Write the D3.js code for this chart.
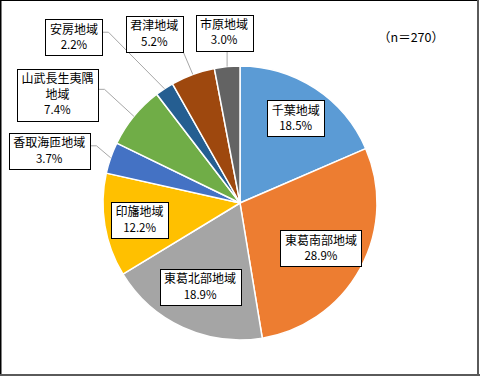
<!DOCTYPE html>
<html><head><meta charset="utf-8">
<script src="https://cdn.jsdelivr.net/npm/d3@7"></script>
<style>
html,body{margin:0;padding:0;background:#fff;}
svg{display:block;}
text{font-family:"Noto Sans CJK JP","Noto Sans",sans-serif;fill:#000;}
</style></head>
<body>
<svg id="c" width="480" height="376"></svg>
<script>
// ---- data ----
const categories = ["千葉地域","東葛南部地域","東葛北部地域","印旛地域","香取海匝地域","山武長生夷隅地域","安房地域","君津地域","市原地域"];
const labelLines = [["千葉地域"],["東葛南部地域"],["東葛北部地域"],["印旛地域"],["香取海匝地域"],["山武長生夷隅","地域"],["安房地域"],["君津地域"],["市原地域"]];
const values = [18.5, 28.9, 18.9, 12.2, 3.7, 7.4, 2.2, 5.2, 3.0];
const colors = ["#5B9BD5","#ED7D31","#A5A5A5","#FFC000","#4472C4","#70AD47","#255E91","#9E480E","#636363"];
const nLabel = "（n＝270）";

// ---- layout (label placement) ----
const labelLayout = [
  {mode:"in", r:0.74, dx:0, dy:0},
  {mode:"in", r:0.64, dx:4, dy:3},
  {mode:"in", r:0.68, dx:-1, dy:-1},
  {mode:"in", r:0.75, dx:1, dy:0},
  {mode:"out", dx:-61.5, dy:-7, side:"right"},
  {mode:"out", dx:-76.5, dy:-22, side:"right"},
  {mode:"out", dx:-90.5, dy:-51.5, side:"right"},
  {mode:"out", dx:-38.5, dy:-40.5, side:"bottom"},
  {mode:"out", dx:-3, dy:-34, side:"bottom"}
];

const W = 480, H = 376;
const cx = 240, cy = 203, R = 137;
const svg = d3.select("#c");

svg.append("rect").attr("x",0).attr("y",0).attr("width",W).attr("height",H).attr("fill","#fff");
svg.append("line").attr("x1",0).attr("y1",0.5).attr("x2",478).attr("y2",0.5).attr("stroke","#000").attr("stroke-width",1);
svg.append("line").attr("x1",0.75).attr("y1",0).attr("x2",0.75).attr("y2",375).attr("stroke","#000").attr("stroke-width",1.5);
svg.append("line").attr("x1",478).attr("y1",0).attr("x2",478).attr("y2",376).attr("stroke","#5a5a5a").attr("stroke-width",2);
svg.append("line").attr("x1",0).attr("y1",375).attr("x2",480).attr("y2",375).attr("stroke","#5a5a5a").attr("stroke-width",2);

const pie = d3.pie().sort(null).value(d=>d);
const arcs = pie(values);
const arc = d3.arc().innerRadius(0).outerRadius(R);
const g = svg.append("g").attr("transform",`translate(${cx},${cy})`);

g.selectAll("path").data(arcs).join("path")
  .attr("d",arc)
  .attr("fill",(d,i)=>colors[i])
  .attr("stroke","#fff").attr("stroke-width",1.5).attr("stroke-linejoin","round");

const fs = 12, fsNum = 11.5, lineH = 15.5, padX = 4.5, padY = 2;
const lg = svg.append("g");

arcs.forEach((d,i)=>{
  const L = labelLayout[i];
  const mid = (d.startAngle + d.endAngle)/2;
  let bx, by;
  const ax = cx + R*Math.sin(mid), ay = cy - R*Math.cos(mid);
  if (L.mode === "in") {
    bx = cx + L.r*R*Math.sin(mid) + L.dx;
    by = cy - L.r*R*Math.cos(mid) + L.dy;
  } else {
    bx = ax + L.dx; by = ay + L.dy;
  }
  const lines = labelLines[i].concat([d3.format(".1f")(values[i]) + "%"]);
  const grp = lg.append("g");
  const rect = grp.append("rect").attr("fill","#fff").attr("stroke","#000").attr("stroke-width",1);
  const tx = grp.append("g");
  let maxW = 0;
  const n = lines.length;
  const h = n*lineH + padY*2 + 1;
  lines.forEach((t,k)=>{
    const el = tx.append("text")
      .attr("x",bx).attr("y", by - h/2 + padY + lineH*k + lineH/2 + 0.5)
      .attr("dy","0.36em")
      .attr("text-anchor","middle")
      .attr("font-size", k===n-1 ? fsNum : fs)
      .text(t);
    maxW = Math.max(maxW, el.node().getComputedTextLength());
  });
  const w = Math.round(maxW + padX*2);
  const left = Math.round(bx - w/2) + 0.5, top = Math.round(by - h/2) + 0.5;
  rect.attr("x",left).attr("y",top).attr("width",w).attr("height",Math.round(h));
  if (L.mode === "out") {
    let pts;
    if (L.side === "right") {
      const sx = left + w, sy = by - 5;
      pts = [[sx,sy],[sx+6,sy],[ax,ay]];
    } else {
      const sx = Math.max(left, Math.min(left+w, ax)), sy = top + Math.round(h);
      pts = [[sx,sy],[ax,ay]];
    }
    lg.insert("path",":first-child").attr("d", d3.line()(pts))
      .attr("fill","none").attr("stroke","#A6A6A6").attr("stroke-width",1);
  }
});

svg.append("text").attr("x",411).attr("y",37).attr("dy","0.36em")
  .attr("text-anchor","middle").attr("font-size",12.5).text(nLabel);
</script>
</body></html>
